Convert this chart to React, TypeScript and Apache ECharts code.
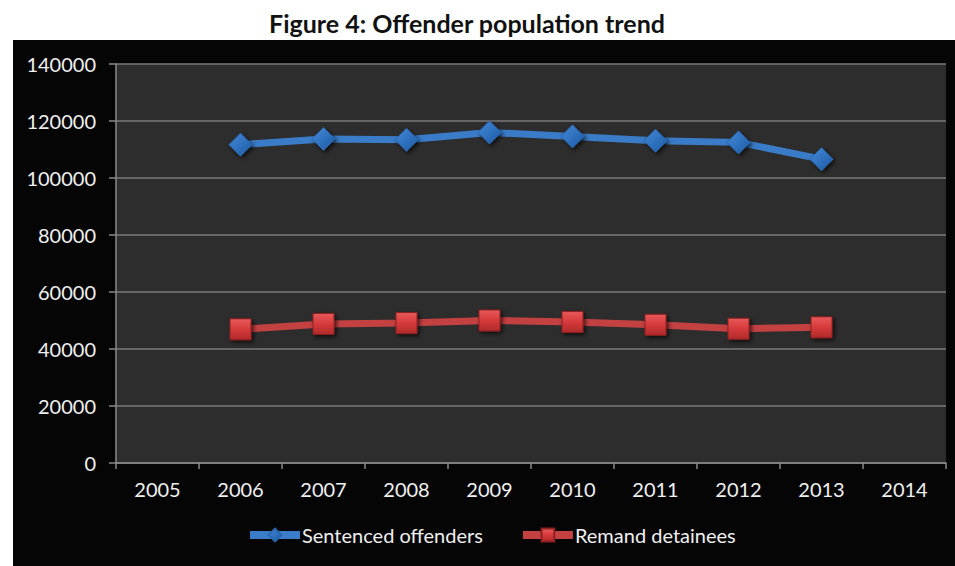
import React, { useEffect, useRef } from "react";
import * as echarts from "echarts";

const years = ["2005", "2006", "2007", "2008", "2009", "2010", "2011", "2012", "2013", "2014"];
const sentencedOffenders = [null, 111700, 113700, 113400, 116000, 114600, 113100, 112500, 106600, null];
const remandDetainees = [null, 46900, 48800, 49100, 50000, 49500, 48500, 47100, 47600, null];
const yTicks = { min: 0, max: 140000, interval: 20000 };

const FONT = "Lato, 'Open Sans', sans-serif";

export default function App() {
  const ref = useRef<HTMLDivElement>(null);
  useEffect(() => {
    if (!ref.current) return;
    const chart = echarts.init(ref.current, null, { renderer: "svg" });
    const markerShadow = {
      shadowColor: "rgba(0,0,0,0.7)",
      shadowBlur: 4,
      shadowOffsetX: 2,
      shadowOffsetY: 2,
    };
    const blueFill = new echarts.graphic.LinearGradient(0, 0, 1, 1, [
      { offset: 0, color: "#4a8ad6" },
      { offset: 0.5, color: "#2f72c0" },
      { offset: 1, color: "#1f5a9e" },
    ]);
    const redFill = new echarts.graphic.LinearGradient(0, 0, 0, 1, [
      { offset: 0, color: "#e85a5a" },
      { offset: 0.5, color: "#d63a3b" },
      { offset: 1, color: "#b02a2a" },
    ]);
    chart.setOption({
      animation: false,
      backgroundColor: "#ffffff",
      textStyle: { fontFamily: FONT },
      graphic: [
        {
          type: "rect",
          left: 13,
          top: 40,
          shape: { width: 942, height: 526 },
          style: { fill: "#050505" },
          z: -10,
        },
      ],
      title: {
        text: "Figure 4: Offender population trend",
        left: 264,
        top: 5,
        textStyle: { fontFamily: FONT, fontSize: 25, fontWeight: "bold", color: "#111111" },
      },
      grid: {
        left: 116,
        right: 9,
        top: 64,
        bottom: 103,
        show: true,
        backgroundColor: "#2d2d2d",
        borderWidth: 0,
      },
      legend: {
        bottom: 16,
        left: 241,
        itemWidth: 50,
        itemHeight: 16,
        itemGap: 36,
        lineStyle: { width: 8 },
        textStyle: { color: "#f0f0f0", fontSize: 20, fontFamily: FONT, padding: [0, 0, 0, -3] },
        data: ["Sentenced offenders", "Remand detainees"],
      },
      xAxis: {
        type: "category",
        data: years,
        boundaryGap: true,
        axisLine: { show: true, lineStyle: { color: "#8a8a8a", width: 1.5 } },
        axisTick: { show: true, length: 6, lineStyle: { color: "#8a8a8a", width: 1.5 } },
        axisLabel: { color: "#f0f0f0", fontSize: 20, margin: 16, fontFamily: FONT },
        splitLine: { show: false },
      },
      yAxis: {
        type: "value",
        min: yTicks.min,
        max: yTicks.max,
        interval: yTicks.interval,
        axisLine: { show: true, lineStyle: { color: "#8a8a8a", width: 1.5 } },
        axisTick: { show: true, length: 7, lineStyle: { color: "#8a8a8a", width: 1.5 } },
        axisLabel: {
          color: "#f0f0f0",
          fontSize: 20,
          margin: 20,
          fontFamily: FONT,
          formatter: (v: number) => String(v),
        },
        splitLine: { show: true, lineStyle: { color: "#7a7a7a", width: 1.5 } },
      },
      series: [
        {
          name: "Sentenced offenders",
          type: "line",
          data: sentencedOffenders,
          symbol: "diamond",
          symbolSize: 23,
          showAllSymbol: true,
          lineStyle: { color: "#3a7cc8", width: 7 },
          itemStyle: { color: blueFill, borderColor: "#2a66ad", borderWidth: 1, ...markerShadow },
        },
        {
          name: "Remand detainees",
          type: "line",
          data: remandDetainees,
          symbol: "rect",
          symbolSize: 21,
          showAllSymbol: true,
          lineStyle: { color: "#c44142", width: 7 },
          itemStyle: { color: redFill, borderColor: "#8e2020", borderWidth: 1, ...markerShadow },
        },
      ],
    });
    return () => chart.dispose();
  }, []);
  return (
    <div
      ref={ref}
      style={{ position: "absolute", left: 0, top: 0, width: 955, height: 566 }}
    />
  );
}
